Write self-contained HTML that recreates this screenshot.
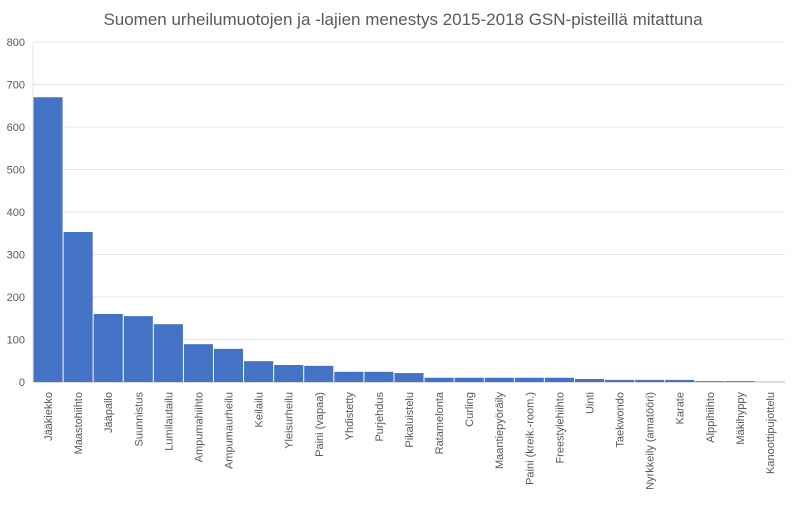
<!DOCTYPE html>
<html><head><meta charset="utf-8"><style>
body{margin:0;background:#fff;font-family:"Liberation Sans",sans-serif}
</style></head><body>
<svg id="chart" width="793" height="501" xmlns="http://www.w3.org/2000/svg">
<text x="403" y="25" text-anchor="middle" font-size="17" fill="#595959">Suomen urheilumuotojen ja -lajien menestys 2015-2018 GSN-pisteillä mitattuna</text>
<g id="grid"></g><g id="bars"></g><g id="labels"></g>
</svg>
<script>
const categories=["Jääkiekko","Maastohiihto","Jääpallo","Suunnistus","Lumilautailu","Ampumahiihto","Ampumaurheilu","Keilailu","Yleisurheilu","Paini (vapaa)","Yhdistetty","Purjehdus","Pikaluistelu","Ratamelonta","Curling","Maantiepyöräily","Paini (kreik.-room.)","Freestylehiihto","Uinti","Taekwondo","Nyrkkeily (amatööri)","Karate","Alppihiihto","Mäkihyppy","Kanoottipujottelu"];
const values=[670,353,160,155,136,89,78,49,40,38,24,24,21,10,10,10,10,10,7,5,5,5,2,2,0];
const ticks=[0,100,200,300,400,500,600,700,800];
const x0=33,x1=785,y0=382,y1=42,maxV=800;
const ns="http://www.w3.org/2000/svg";
const yS=v=>y0-(v/maxV)*(y0-y1);
const bw=(x1-x0)/categories.length;
const xS=i=>x0+i*bw;
const svg=document.getElementById('chart');
const g=document.getElementById('grid'),b=document.getElementById('bars'),l=document.getElementById('labels');
ticks.forEach(t=>{
 const ln=document.createElementNS(ns,'line');
 
 
 ln.setAttribute('x1',x0);ln.setAttribute('x2',x1);ln.setAttribute('y1',yS(t));ln.setAttribute('y2',yS(t));
 ln.setAttribute('stroke',t===0?'#d0d0d0':'#e6e6e6');ln.setAttribute('stroke-width',t===0?1.5:1);
 g.appendChild(ln);
 const tx=document.createElementNS(ns,'text');
 
 
 tx.setAttribute('x',25);tx.setAttribute('y',yS(t)+4);tx.setAttribute('text-anchor','end');
 tx.setAttribute('font-size','11');tx.setAttribute('fill','#595959');tx.textContent=t;
 l.appendChild(tx);
});
const ax=document.createElementNS(ns,'line');


ax.setAttribute('x1',x0);ax.setAttribute('x2',x0);ax.setAttribute('y1',y1);ax.setAttribute('y2',y0);ax.setAttribute('stroke','#e6e6e6');
g.appendChild(ax);
categories.forEach((c,i)=>{
 const r=document.createElementNS(ns,'rect');
 
 
 r.setAttribute('x',xS(i)+0.5);r.setAttribute('width',bw-1);
 r.setAttribute('y',yS(values[i]));r.setAttribute('height',y0-yS(values[i]));
 r.setAttribute('fill','#4472c4');
 b.appendChild(r);
 const tx=document.createElementNS(ns,'text');
 
 
 const cx=xS(i)+bw/2+4,cy=392;
 tx.setAttribute('x',cx);tx.setAttribute('y',cy);tx.setAttribute('text-anchor','end');
 tx.setAttribute('transform','rotate(-90 '+cx+' '+cy+')');
 tx.setAttribute('font-size','11');tx.setAttribute('fill','#595959');tx.textContent=c;
 l.appendChild(tx);
});
</script>
</body></html>
